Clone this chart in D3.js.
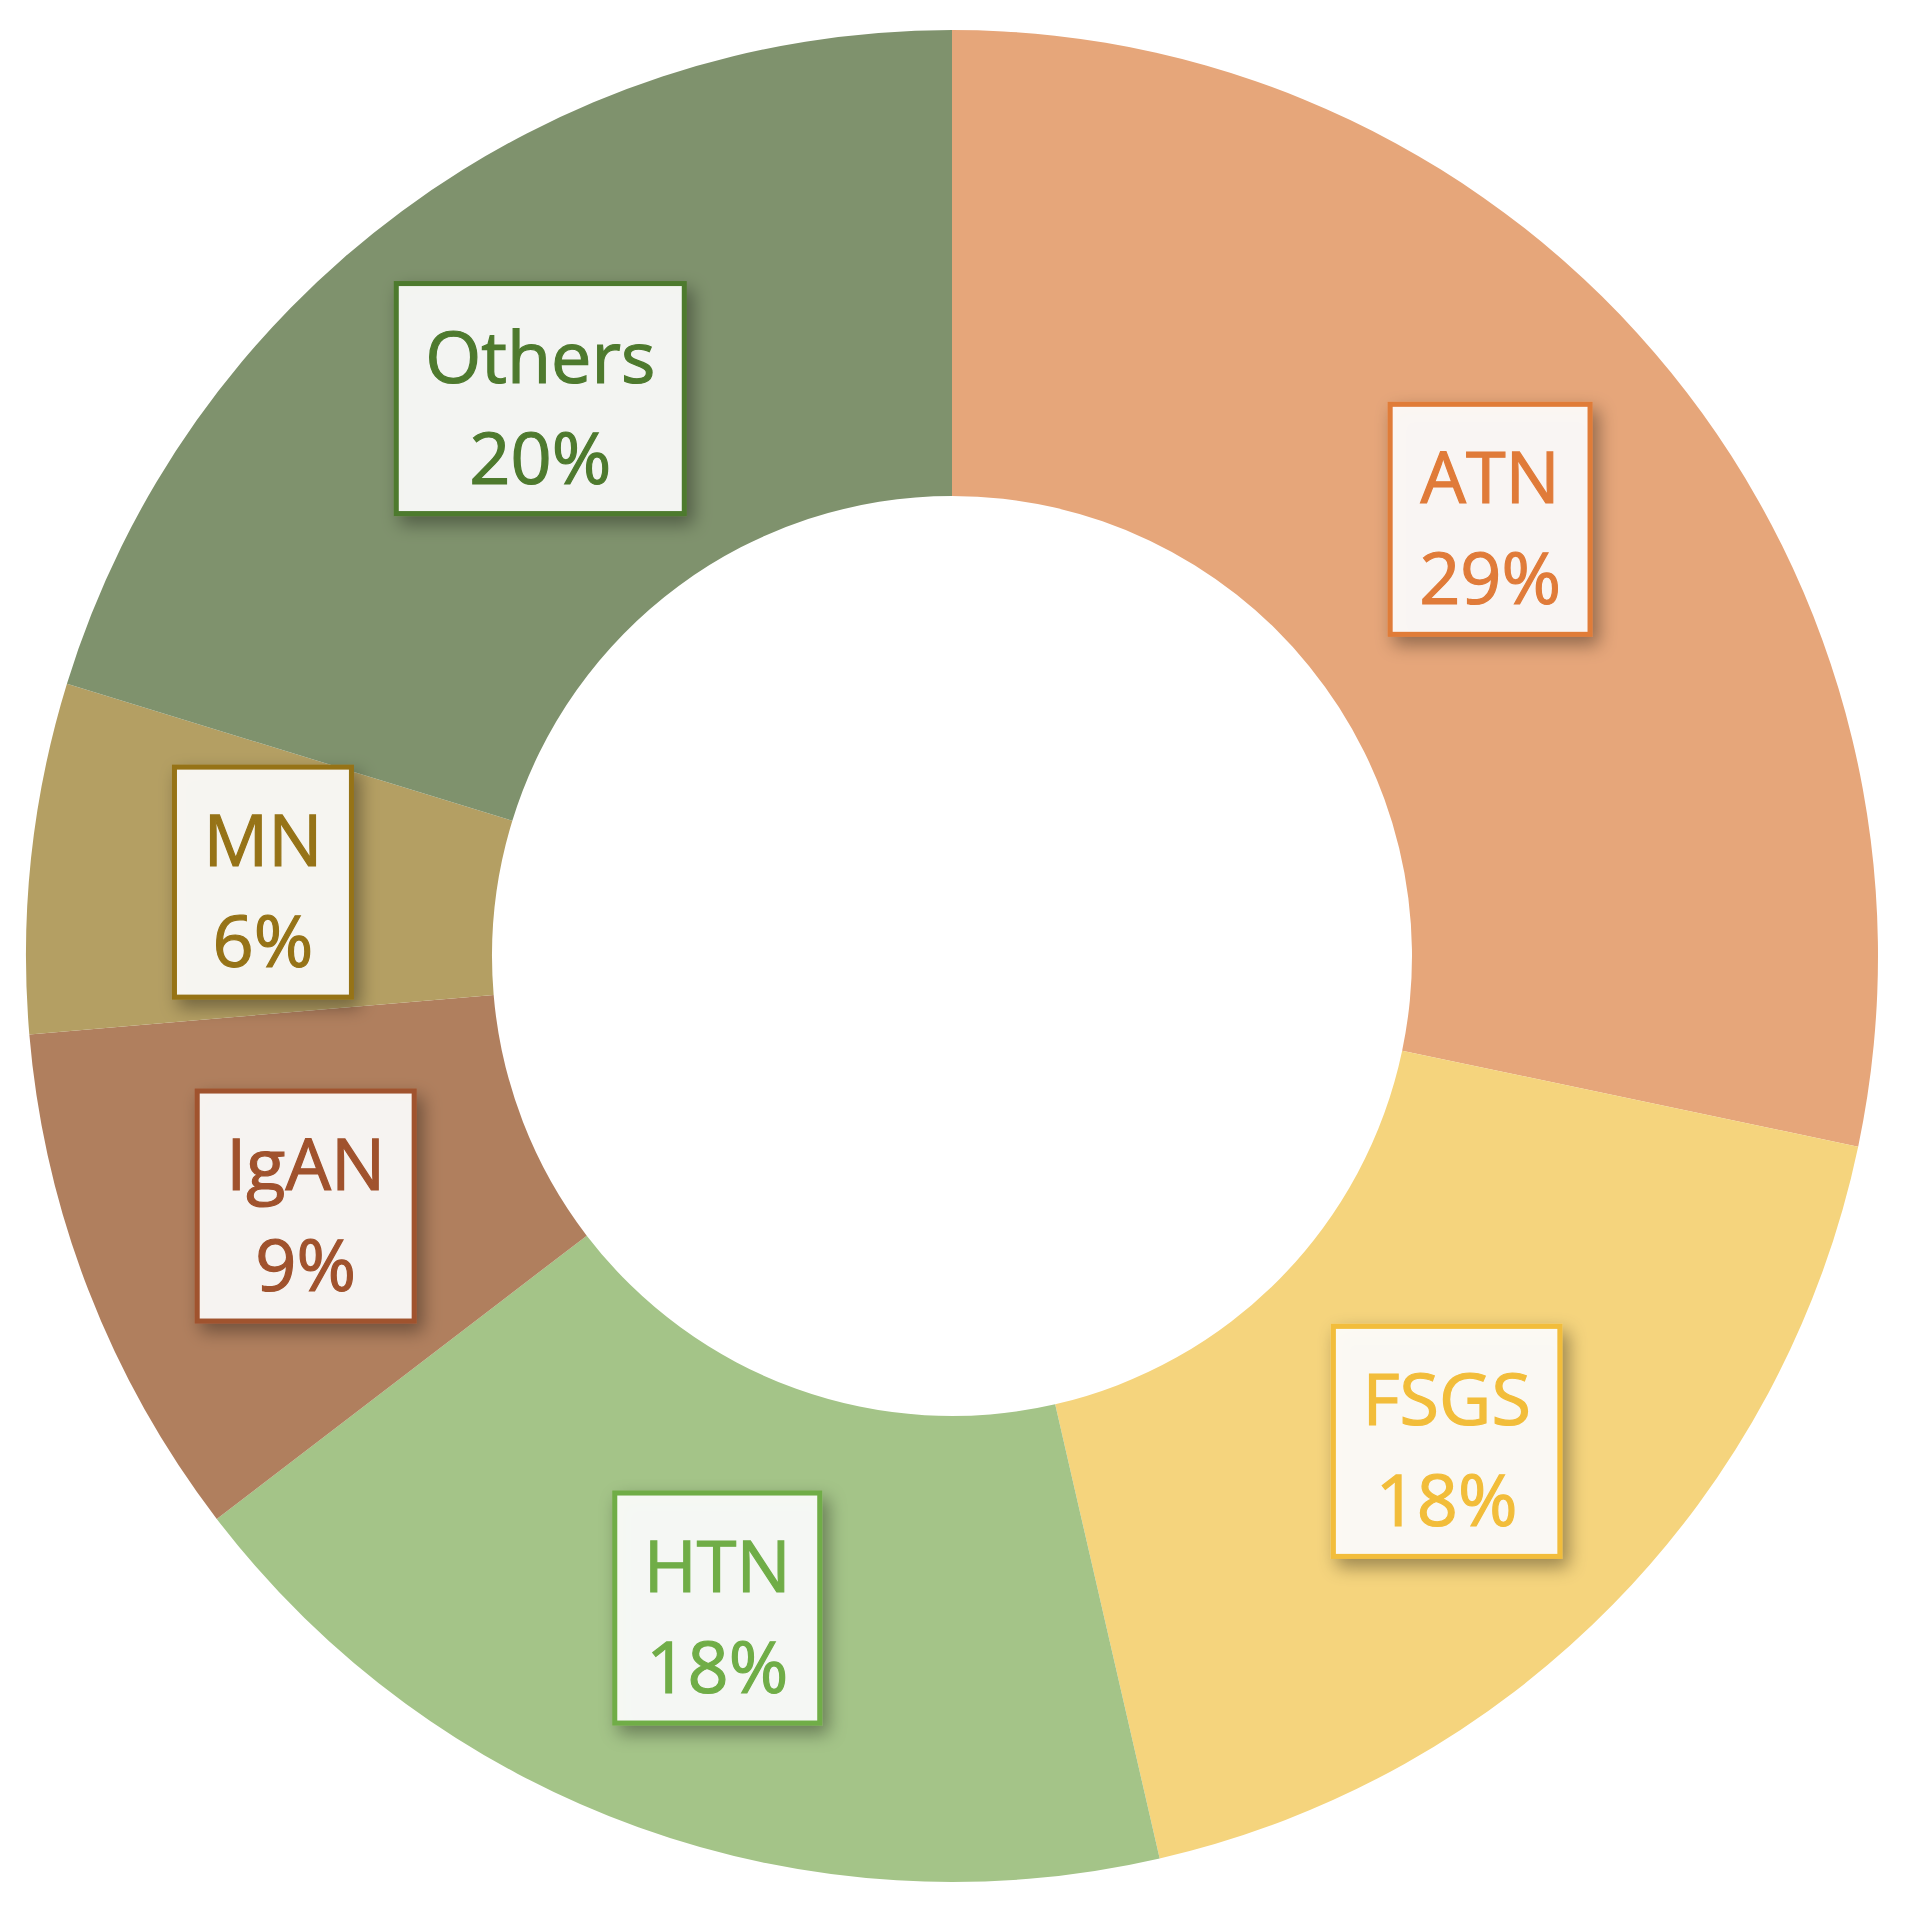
<!DOCTYPE html>
<html>
<head>
  <meta charset="utf-8">
  <style>
    body { margin: 0; background: #ffffff; }
    .label-text {
      font-family: "Open Sans", "Noto Sans", sans-serif;
      font-size: 72px;
      text-anchor: middle;
      stroke-width: 1.2px;
    }
  </style>
  <script src="https://d3js.org/d3.v7.min.js"></script>
</head>
<body>
  <div id="chartContainer"></div>

  <script>
    // slice sizes (share of the ring, %)
    var categories = ["ATN", "FSGS", "HTN", "IgAN", "MN", "Others"];
    var values = [28.3, 18.1, 18.2, 9.05, 6.1, 20.25];
    // percentage text printed in each label box
    var percentLabels = ["29%", "18%", "18%", "9%", "6%", "20%"];

    var sliceColors = ["#e6a67a", "#f5d47d", "#a4c488", "#b07f5e", "#b49f63", "#7f926d"];
    var labelColors = ["#e07b39", "#f2bd3a", "#70ad47", "#a0522d", "#967317", "#4e7a2e"];

    var svgWidth = 1906;
    var svgHeight = 1913;
    var cx = 952, cy = 956;
    var outerR = 926, innerR = 460;

    var data = categories.map(function (c, i) {
      return { name: c, value: values[i], pct: percentLabels[i], fill: sliceColors[i], ink: labelColors[i] };
    });

    var svg = d3.select("#chartContainer")
      .append("svg")
      .attr("width", svgWidth)
      .attr("height", svgHeight);

    // soft shadow under the label boxes
    var filter = svg.append("defs").append("filter")
      .attr("id", "shadow")
      .attr("x", "-30%").attr("y", "-30%")
      .attr("width", "160%").attr("height", "160%");
    filter.append("feDropShadow")
      .attr("dx", 6).attr("dy", 8)
      .attr("stdDeviation", 9)
      .attr("flood-color", "#000")
      .attr("flood-opacity", 0.4);

    var chart = svg.append("g")
      .attr("transform", "translate(" + cx + "," + cy + ")");

    var pie = d3.pie()
      .sort(null)
      .value(function (d) { return d.value; });

    var arc = d3.arc()
      .innerRadius(innerR)
      .outerRadius(outerR);

    var arcs = pie(data);

    chart.selectAll(".slice")
      .data(arcs)
      .enter()
      .append("path")
      .attr("class", "slice")
      .attr("d", arc)
      .attr("fill", function (d) { return d.data.fill; });

    // label boxes at the middle of each slice
    var labels = chart.selectAll(".label")
      .data(arcs)
      .enter()
      .append("g")
      .attr("class", "label")
      .attr("transform", function (d) {
        var c = arc.centroid(d);
        return "translate(" + c[0] + "," + c[1] + ")";
      });

    var boxes = labels.append("rect")
      .attr("fill", "#ffffff")
      .attr("fill-opacity", 0.9)
      .attr("stroke", function (d) { return d.data.ink; })
      .attr("stroke-width", 5)
      .attr("filter", "url(#shadow)");

    labels.append("text")
      .attr("class", "label-text")
      .attr("y", -16)
      .attr("fill", function (d) { return d.data.ink; })
      .attr("stroke", function (d) { return d.data.ink; })
      .text(function (d) { return d.data.name; });

    labels.append("text")
      .attr("class", "label-text")
      .attr("y", 85)
      .attr("fill", function (d) { return d.data.ink; })
      .attr("stroke", function (d) { return d.data.ink; })
      .text(function (d) { return d.data.pct; });

    boxes.each(function () {
      var g = d3.select(this.parentNode);
      var w = 0;
      g.selectAll("text").each(function () {
        w = Math.max(w, this.getComputedTextLength());
      });
      w += 58;
      d3.select(this)
        .attr("x", -w / 2)
        .attr("y", -115)
        .attr("width", w)
        .attr("height", 230);
    });
  </script>
</body>
</html>
